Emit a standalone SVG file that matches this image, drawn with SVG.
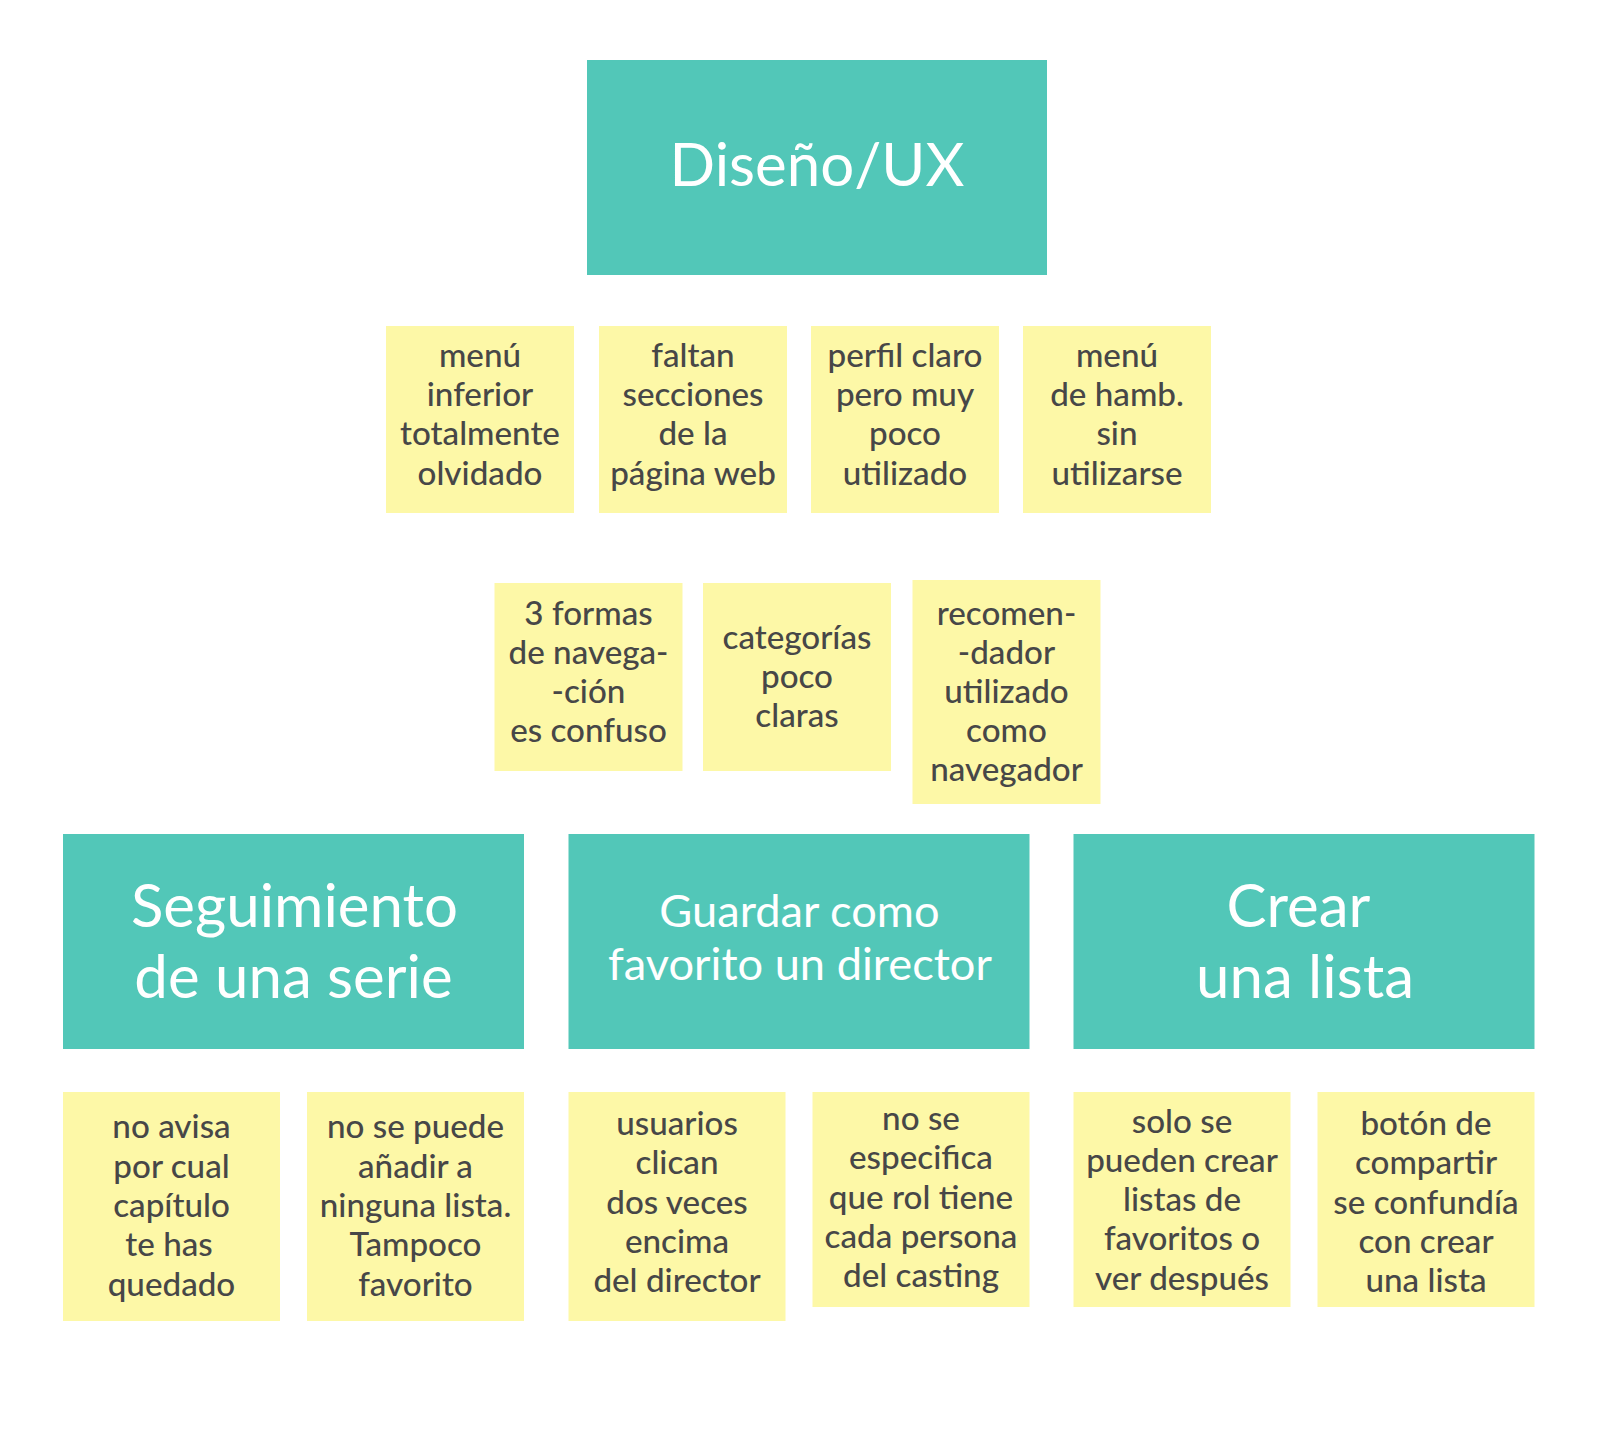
<svg xmlns="http://www.w3.org/2000/svg" width="1600" height="1450" viewBox="0 0 1600 1450">
<style>
.teal{fill:#52C7B8}
.note{fill:#FDF8A7}
.ht{font-family:Lato,"Open Sans","Liberation Sans",sans-serif;fill:#ffffff;text-anchor:middle}
.nt{font-family:Lato,"Open Sans","Liberation Sans",sans-serif;fill:#474747;text-anchor:middle;font-size:33.2px;font-weight:500}
</style>
<rect width="1600" height="1450" fill="#ffffff"/>
<g id="connectors"/>
<g id="title">
<rect class="teal" x="587" y="60" width="460" height="215"/>
<text class="ht" x="817" y="186" font-size="60">Diseño/UX</text>
</g>
<g id="n-menu-inferior">
<rect class="note" x="386" y="326" width="188" height="187"/>
<text class="nt" x="480"><tspan x="480" y="367">menú</tspan><tspan x="480" y="406.2">inferior</tspan><tspan x="480" y="445.4">totalmente</tspan><tspan x="480" y="484.6">olvidado</tspan></text>
</g>
<g id="n-faltan">
<rect class="note" x="599" y="326" width="188" height="187"/>
<text class="nt" x="693"><tspan x="693" y="367">faltan</tspan><tspan x="693" y="406.2">secciones</tspan><tspan x="693" y="445.4">de la</tspan><tspan x="693" y="484.6">página web</tspan></text>
</g>
<g id="n-perfil">
<rect class="note" x="811" y="326" width="188" height="187"/>
<text class="nt" x="905"><tspan x="905" y="367">perfil claro</tspan><tspan x="905" y="406.2">pero muy</tspan><tspan x="905" y="445.4">poco</tspan><tspan x="905" y="484.6">utilizado</tspan></text>
</g>
<g id="n-hamb">
<rect class="note" x="1023" y="326" width="188" height="187"/>
<text class="nt" x="1117"><tspan x="1117" y="367">menú</tspan><tspan x="1117" y="406.2">de hamb.</tspan><tspan x="1117" y="445.4">sin</tspan><tspan x="1117" y="484.6">utilizarse</tspan></text>
</g>
<g id="n-3formas">
<rect class="note" x="494.5" y="583" width="188" height="188"/>
<text class="nt" x="588.5"><tspan x="588.5" y="625">3 formas</tspan><tspan x="588.5" y="664">de navega-</tspan><tspan x="588.5" y="703">-ción</tspan><tspan x="588.5" y="742">es confuso</tspan></text>
</g>
<g id="n-categorias">
<rect class="note" x="703" y="583" width="188" height="188"/>
<text class="nt" x="797"><tspan x="797" y="649">categorías</tspan><tspan x="797" y="688">poco</tspan><tspan x="797" y="727">claras</tspan></text>
</g>
<g id="n-recomendador">
<rect class="note" x="912.5" y="580" width="188" height="224"/>
<text class="nt" x="1006.5"><tspan x="1006.5" y="625">recomen-</tspan><tspan x="1006.5" y="664">-dador</tspan><tspan x="1006.5" y="703">utilizado</tspan><tspan x="1006.5" y="742">como</tspan><tspan x="1006.5" y="781">navegador</tspan></text>
</g>
<g id="cat-seguimiento">
<rect class="teal" x="63" y="834" width="461" height="215"/>
<text class="ht" font-size="60"><tspan x="294.5" y="927">Seguimiento</tspan><tspan x="293.5" y="998">de una serie</tspan></text>
</g>
<g id="cat-guardar">
<rect class="teal" x="568.5" y="834" width="461" height="215"/>
<text class="ht" font-size="45.2"><tspan x="799.5" y="927">Guardar como</tspan><tspan x="800" y="980">favorito un director</tspan></text>
</g>
<g id="cat-crear">
<rect class="teal" x="1073.5" y="834" width="461" height="215"/>
<text class="ht" font-size="60"><tspan x="1298.5" y="927">Crear</tspan><tspan x="1305" y="998">una lista</tspan></text>
</g>
<g id="n-no-avisa">
<rect class="note" x="63" y="1092" width="217" height="229"/>
<text class="nt"><tspan x="171.5" y="1138.3">no avisa</tspan><tspan x="171.5" y="1177.6">por cual</tspan><tspan x="171.5" y="1216.9">capítulo</tspan><tspan x="169" y="1256.2">te has</tspan><tspan x="171.5" y="1295.5">quedado</tspan></text>
</g>
<g id="n-no-anadir">
<rect class="note" x="307" y="1092" width="217" height="229"/>
<text class="nt"><tspan x="415.5" y="1138.3">no se puede</tspan><tspan x="415.5" y="1177.6">añadir a</tspan><tspan x="415.5" y="1216.9">ninguna lista.</tspan><tspan x="415.5" y="1256.2">Tampoco</tspan><tspan x="415.5" y="1295.5">favorito</tspan></text>
</g>
<g id="n-usuarios">
<rect class="note" x="568.5" y="1092" width="217" height="229"/>
<text class="nt"><tspan x="677" y="1135">usuarios</tspan><tspan x="677" y="1174.3">clican</tspan><tspan x="677" y="1213.6">dos veces</tspan><tspan x="677" y="1252.9">encima</tspan><tspan x="677" y="1292.2">del director</tspan></text>
</g>
<g id="n-rol">
<rect class="note" x="812.5" y="1092" width="217" height="215"/>
<text class="nt"><tspan x="921" y="1130">no se</tspan><tspan x="921" y="1169.3">especifica</tspan><tspan x="921" y="1208.6">que rol tiene</tspan><tspan x="921" y="1247.9">cada persona</tspan><tspan x="921" y="1287.2">del casting</tspan></text>
</g>
<g id="n-solo">
<rect class="note" x="1073.5" y="1092" width="217" height="215"/>
<text class="nt"><tspan x="1182" y="1132.5">solo se</tspan><tspan x="1182" y="1171.8">pueden crear</tspan><tspan x="1182" y="1211.1">listas de</tspan><tspan x="1182" y="1250.4">favoritos o</tspan><tspan x="1182" y="1289.7">ver después</tspan></text>
</g>
<g id="n-boton">
<rect class="note" x="1317.5" y="1092" width="217" height="215"/>
<text class="nt"><tspan x="1426" y="1135">botón de</tspan><tspan x="1426" y="1174.3">compartir</tspan><tspan x="1426" y="1213.6">se confundía</tspan><tspan x="1426" y="1252.9">con crear</tspan><tspan x="1426" y="1292.2">una lista</tspan></text>
</g>
</svg>
